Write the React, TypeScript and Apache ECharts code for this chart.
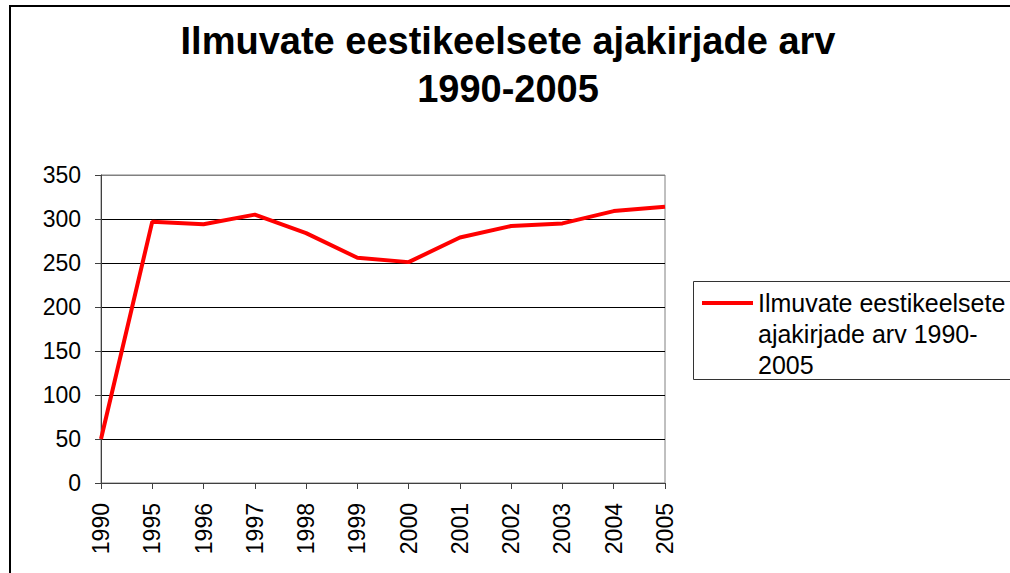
import React, { useEffect, useRef } from "react";
import * as echarts from "echarts";

const titleText = "Ilmuvate eestikeelsete ajakirjade arv\n1990-2005";
const seriesName = "Ilmuvate eestikeelsete ajakirjade arv 1990-2005";
const legendFirstLine = "Ilmuvate eestikeelsete";
const legendRestLines = "ajakirjade arv 1990-\n2005";
const years = ["1990", "1995", "1996", "1997", "1998", "1999", "2000", "2001", "2002", "2003", "2004", "2005"];
const counts = [50, 297, 294, 305, 284, 256, 251, 279, 292, 295, 309, 314];
const yMin = 0;
const yMax = 350;
const yStep = 50;

export default function App() {
  const ref = useRef<HTMLDivElement>(null);
  useEffect(() => {
    if (!ref.current) return;
    const chart = echarts.init(ref.current, null, { renderer: "svg" });
    const font = "'Liberation Sans', Arial, sans-serif";
    chart.setOption({
      animation: false,
      backgroundColor: "#fff",
      textStyle: { fontFamily: font },
      title: {
        text: titleText,
        left: 508,
        top: 17,
        padding: 0,
        textAlign: "center",
        textStyle: { fontSize: 38, fontWeight: "bold", color: "#000", lineHeight: 48, fontFamily: font },
      },
      grid: {
        left: 101,
        right: 345,
        top: 175,
        bottom: 90,
        show: true,
        borderColor: "#808080",
        borderWidth: 1,
        backgroundColor: "#fff",
      },
      legend: {
        show: true,
        left: 702,
        top: 287.5,
        padding: 0,
        itemWidth: 51,
        itemHeight: 14,
        formatter: () => legendFirstLine,
        textStyle: { fontSize: 25, lineHeight: 31, color: "#000", fontFamily: font },
        data: [{ name: seriesName, icon: "path://M0,0 L50,0 L50,4 L0,4 Z" }],
      },
      xAxis: {
        type: "category",
        data: years,
        boundaryGap: false,
        axisLine: { lineStyle: { color: "#404040", width: 1 } },
        axisTick: { show: true, interval: 0, length: 6, lineStyle: { color: "#404040" } },
        axisLabel: { rotate: 90, interval: 0, margin: 20, fontSize: 23, color: "#000", fontFamily: font },
        splitLine: { show: false },
      },
      yAxis: {
        type: "value",
        min: yMin,
        max: yMax,
        interval: yStep,
        axisLine: { show: true, lineStyle: { color: "#404040", width: 1 } },
        axisTick: { show: true, length: 6, lineStyle: { color: "#404040" } },
        axisLabel: { margin: 20, fontSize: 23, color: "#000", fontFamily: font },
        splitLine: {
          show: true,
          lineStyle: { color: ["#000", "#000", "#000", "#000", "#000", "#000", "#000", "#808080"], width: 1 },
        },
      },
      series: [
        {
          name: seriesName,
          type: "line",
          data: counts,
          symbol: "none",
          lineStyle: { color: "#ff0000", width: 4 },
          itemStyle: { color: "#ff0000" },
        },
      ],
      graphic: [
        {
          type: "rect",
          shape: { x: 10, y: 6, width: 1040, height: 600 },
          style: { fill: "none", stroke: "#000", lineWidth: 2 },
          silent: true,
          z: 100,
        },
        {
          type: "rect",
          shape: { x: 693.5, y: 281.5, width: 340, height: 98 },
          style: { fill: "none", stroke: "#333", lineWidth: 1 },
          silent: true,
          z: 100,
        },
        {
          type: "text",
          left: 758,
          top: 318.5,
          style: {
            text: legendRestLines,
            fontSize: 25,
            lineHeight: 31,
            fill: "#000",
            fontFamily: font,
          },
          silent: true,
          z: 100,
        },
      ],
    });
    return () => chart.dispose();
  }, []);
  return (
    <div
      ref={ref}
      style={{ position: "fixed", left: 0, top: 0, width: 1010, height: 573, background: "#fff" }}
    />
  );
}
